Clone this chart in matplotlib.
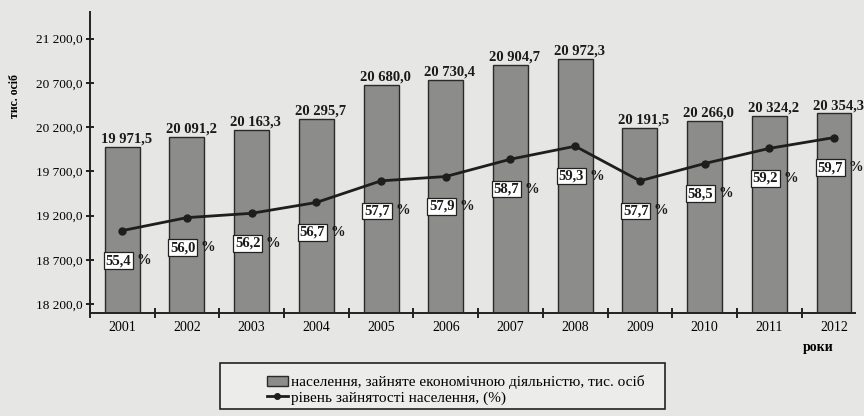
import numpy as np
import matplotlib.pyplot as plt
from matplotlib.patches import Rectangle
from matplotlib.lines import Line2D

# === Data ===
years = ["2001", "2002", "2003", "2004", "2005", "2006",
         "2007", "2008", "2009", "2010", "2011", "2012"]
employed = [19971.5, 20091.2, 20163.3, 20295.7, 20680.0, 20730.4,
            20904.7, 20972.3, 20191.5, 20266.0, 20324.2, 20354.3]
rate = [55.4, 56.0, 56.2, 56.7, 57.7, 57.9, 58.7, 59.3, 57.7, 58.5, 59.2, 59.7]
y_ticks = [18200, 18700, 19200, 19700, 20200, 20700, 21200]

bar_label = "населення, зайняте економічною діяльністю, тис. осіб"
line_label = "рівень зайнятості населення, (%)"

plt.rcParams['font.family'] = ['Liberation Serif', 'DejaVu Serif']
BG = "#e6e6e4"


def ua(v, nd=1):
    s = f"{v:,.{nd}f}"
    return s.replace(",", " ").replace(".", ",")


fig = plt.figure(figsize=(8.64, 4.16), dpi=100, facecolor=BG)
ax = fig.add_axes([0.104, 0.248, 0.886, 0.723])
ax.set_facecolor(BG)

x = np.arange(len(years))
ax.bar(x, employed, width=0.54, color="#8c8c8a", edgecolor="#2a2a2a", linewidth=1.0, zorder=2)
ax.set_ylim(18100, 21500)
ax.set_xlim(-0.495, 11.33)

ax.set_yticks(y_ticks)
ax.set_yticklabels([ua(v) for v in y_ticks], fontsize=9.5)
ax.set_xticks(x)
ax.set_xticklabels(years, fontsize=10)
ax.set_xticks(np.arange(len(years)) - 0.5, minor=True)
ax.tick_params(axis='x', which='major', length=0, pad=6)
ax.tick_params(axis='x', which='minor', direction='inout', length=7, width=1.2)
ax.tick_params(axis='y', direction='inout', length=6, width=1.2, pad=2)
for s in ("top", "right"):
    ax.spines[s].set_visible(False)
for s in ("left", "bottom"):
    ax.spines[s].set_linewidth(1.4)
    ax.spines[s].set_color("#222222")

for xi, v in zip(x, employed):
    ax.annotate(ua(v), (xi, v), xytext=(3, 1), textcoords='offset points',
                ha='center', va='bottom', fontsize=10.5, fontweight='bold', color="#1a1a1a")

ax.set_ylabel("тис. осіб", fontsize=8.5, fontweight='bold')
ax.yaxis.set_label_coords(-0.09, 0.72)
ax.text(0.971, -0.115, "роки", transform=ax.transAxes, ha='right', va='center',
        fontsize=10, fontweight='bold')

# employment rate on hidden secondary axis
ax2 = ax.twinx()
ax2.set_ylim(51.6, 65.5)
ax2.axis('off')
ax2.plot(x, rate, color="#1e1e1e", linewidth=2.0, marker='o', markersize=5, zorder=4)
for xi, r in zip(x, rate):
    ax2.annotate(ua(r), (xi, r), xytext=(-4, -30), textcoords='offset pixels',
                 ha='center', va='center', fontsize=10.5, fontweight='bold', color="#1a1a1a",
                 bbox=dict(boxstyle='square,pad=0.12', fc='white', ec='#222222', lw=0.9))
    ax2.annotate("%", (xi, r), xytext=(14, -30), textcoords='offset pixels',
                 ha='left', va='center', fontsize=10.5, fontweight='bold', color="#1a1a1a")

# legend
fig.patches.append(Rectangle((0.255, 0.018), 0.515, 0.11, transform=fig.transFigure,
                             facecolor="#ececea", edgecolor="#222222", linewidth=1.2))
handles = [Rectangle((0, 0), 1, 1, facecolor="#8c8c8a", edgecolor="#2a2a2a"),
           Line2D([], [], color="#1e1e1e", linewidth=2, marker='o', markersize=4)]
fig.legend(handles, [bar_label, line_label], loc='upper left',
           bbox_to_anchor=(0.298, 0.12), frameon=False, fontsize=11,
           handlelength=1.4, handletextpad=0.2, labelspacing=0.1,
           borderpad=0.1)

fig.savefig("out.png", dpi=100, facecolor=BG)
